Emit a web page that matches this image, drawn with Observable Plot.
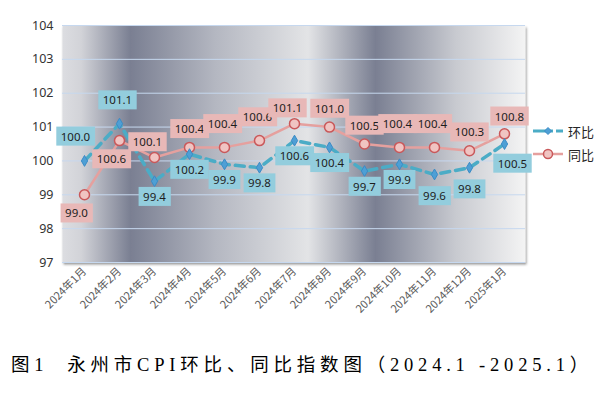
<!DOCTYPE html>
<html><head><meta charset="utf-8">
<script src="https://cdn.jsdelivr.net/npm/d3@7"></script>
<script src="https://cdn.jsdelivr.net/npm/@observablehq/plot@0.6"></script>
<style>
body{margin:0;background:#fff;width:609px;height:399px;overflow:hidden;position:relative;font-family:"Noto Sans","Noto Sans CJK SC",sans-serif;}
#chart{position:absolute;left:0;top:0;}
#legend{position:absolute;left:532px;top:121px;font-size:13px;color:#262626;font-family:"Noto Sans CJK SC",sans-serif;}
#legend .row{display:flex;align-items:center;height:20px;margin-bottom:3px;}
#legend svg{margin-right:4px;}
#caption{position:absolute;left:11px;top:353px;font-family:"Liberation Serif","Noto Sans CJK SC",serif;font-size:18.5px;letter-spacing:4.8px;color:#000;white-space:pre;line-height:24px;}
</style></head><body>
<div id="chart"></div>
<div id="legend"></div>
<div id="caption"></div>
<script>
const months = ["2024年1月","2024年2月","2024年3月","2024年4月","2024年5月","2024年6月","2024年7月","2024年8月","2024年9月","2024年10月","2024年11月","2024年12月","2025年1月"];
const huanbi = [100.0,101.1,99.4,100.2,99.9,99.8,100.6,100.4,99.7,99.9,99.6,99.8,100.5];
const tongbi = [99.0,100.6,100.1,100.4,100.4,100.6,101.1,101.0,100.5,100.4,100.4,100.3,100.8];
const yTicks = [97,98,99,100,101,102,103,104];
const huanPlace = ["upper-left","above-far","below","below","below","below","below","below","below","below","below-far","below-far","below-right"];
const tongPlace = ["below-left","below-left","above-left","above","above-far","above-far","above-left","above","above","above-far","above-far","above","above-right"];
const seriesNames = ["环比","同比"];
const captionText = "图1  永州市CPI环比、同比指数图（2024.1 -2025.1）";

const offsets = {
  "above":[0,-18], "above-far":[-2,-23], "above-left":[-7,-15], "above-right":[5,-17],
  "upper-left":[-9,-24],
  "below":[0,16], "below-far":[0,22], "below-left":[-8,19], "below-right":[8,20]
};

const huanData = months.map((m,i)=>({month:m, value:huanbi[i], place:huanPlace[i]}));
const tongData = months.map((m,i)=>({month:m, value:tongbi[i], place:tongPlace[i]}));

function labelMarks(data, cls){
  return Object.keys(offsets).map(k => Plot.text(data.filter(d=>d.place===k), {
    x:"month", y:"value", text:d=>d.value.toFixed(1),
    dx:offsets[k][0], dy:offsets[k][1],
    fontSize:11.5, fill:"#1e1e1e", className:cls,
    fontFamily:"'Noto Sans', sans-serif"
  }));
}

const plot = Plot.plot({
  width:609, height:340,
  marginLeft:62, marginRight:84, marginTop:25, marginBottom:78,
  x:{type:"point", domain:months, padding:0.5, label:null},
  y:{domain:[97,104], label:null},
  style:{background:"transparent"},
  marks:[
    Plot.frame({fill:"url(#bgGrad)", className:"bgframe"}),
    Plot.gridY({ticks:yTicks, stroke:"#c6d8ef", strokeOpacity:1, strokeWidth:1}),
    Plot.axisY({ticks:yTicks, tickFormat:"d", tickSize:0, tickPadding:9, fontSize:12.5, fill:"#333", fontFamily:"'Noto Sans', sans-serif"}),
    Plot.axisX({tickRotate:-45, tickSize:0, tickPadding:7, fontSize:11, fill:"#5a5a5a", fontFamily:"'Noto Sans CJK SC', sans-serif"}),
    Plot.line(tongData, {x:"month", y:"value", stroke:"#e5a09e", strokeWidth:2.5}),
    Plot.line(huanData, {x:"month", y:"value", stroke:"#4bacc6", strokeWidth:3.5, strokeDasharray:"9,6"}),
    Plot.dot(tongData, {x:"month", y:"value", r:5, fill:"#f0c4c2", stroke:"#c9585a", strokeWidth:1.5}),
    Plot.dot(huanData, {x:"month", y:"value", symbol:"diamond", r:3.3, fill:"#4e9fd5", stroke:"#3b8bc6", strokeWidth:1}),
    ...labelMarks(tongData, "lbl-tong"),
    ...labelMarks(huanData, "lbl-huan")
  ]
});
document.getElementById("chart").appendChild(plot);

// gradient background + shadow
const svg = d3.select(plot);
const defs = svg.insert("defs", ":first-child");
const grad = defs.append("linearGradient").attr("id","bgGrad").attr("x1",0).attr("x2",1).attr("y1",0).attr("y2",0);
[[0,"#dcdde1"],[0.04,"#d2d3d8"],[0.147,"#7a7f92"],[0.33,"#b4b7c1"],[0.53,"#e3e4e6"],[0.676,"#7a7f92"],[0.85,"#c8cad0"],[1,"#f4f4f4"]]
  .forEach(([o,c])=>grad.append("stop").attr("offset",o).attr("stop-color",c));
const f = defs.append("filter").attr("id","shadow").attr("x","-5%").attr("y","-5%").attr("width","110%").attr("height","115%");
f.append("feDropShadow").attr("dx",1).attr("dy",2).attr("stdDeviation",1.2).attr("flood-color","#404040").attr("flood-opacity",0.55);
svg.selectAll(".bgframe").attr("filter","url(#shadow)");

// label boxes
function boxify(cls, color){
  svg.selectAll("g."+cls+" text").each(function(){
    const b = this.getBBox();
    const padX = 4.5, padY = 2;
    d3.select(this.parentNode).insert("rect", () => this)
      .attr("x", b.x - padX).attr("y", b.y - padY)
      .attr("width", b.width + 2*padX).attr("height", b.height + 2*padY)
      .attr("transform", this.getAttribute("transform"))
      .attr("fill", color);
  });
}
boxify("lbl-tong", "#e8b8b7");
boxify("lbl-huan", "#93cddd");

// legend
const legend = d3.select("#legend");
const r1 = legend.append("div").attr("class","row");
const s1 = r1.append("svg").attr("width",32).attr("height",12);
s1.append("line").attr("x1",1).attr("x2",31).attr("y1",6).attr("y2",6).attr("stroke","#4bacc6").attr("stroke-width",3).attr("stroke-dasharray","20,3,8");
s1.append("path").attr("d","M16,2.5 L19.5,6 L16,9.5 L12.5,6 Z").attr("fill","#4e9fd5").attr("stroke","#3b8bc6");
r1.append("span").text(seriesNames[0]);
const r2 = legend.append("div").attr("class","row");
const s2 = r2.append("svg").attr("width",32).attr("height",12);
s2.append("line").attr("x1",1).attr("x2",31).attr("y1",6).attr("y2",6).attr("stroke","#e5a09e").attr("stroke-width",2.5);
s2.append("circle").attr("cx",16).attr("cy",6).attr("r",4.5).attr("fill","#f0c4c2").attr("stroke","#c9585a").attr("stroke-width",1.5);
r2.append("span").text(seriesNames[1]);

document.getElementById("caption").textContent = captionText;
</script>
</body></html>
